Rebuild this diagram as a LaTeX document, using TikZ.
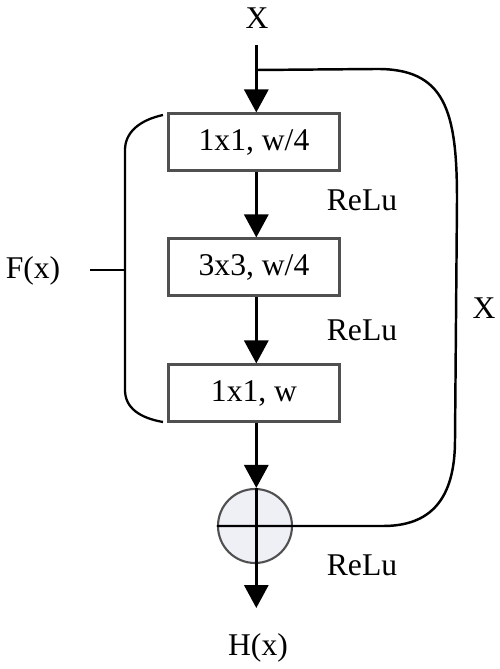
\documentclass[tikz,border=0pt]{standalone}
\usepackage{fontspec}
\setmainfont{Liberation Serif}
\usetikzlibrary{arrows.meta}
\definecolor{boxline}{HTML}{505050}
\definecolor{sumfill}{HTML}{EEF0F6}

\tikzset{
  layer/.style={draw=boxline, line width=1.2pt, fill=white, minimum width=3.42cm, minimum height=1.14cm, inner sep=0pt},
  flow/.style={line width=1.8pt, -{Triangle[length=0.46cm, width=0.48cm]}},
  lbl/.style={font=\fontsize{18}{20}\selectfont, inner sep=0pt}
}

\begin{document}
\begin{tikzpicture}[x=0.02cm, y=-0.02cm, every node/.style={font=\fontsize{18}{20}\selectfont}]
      \useasboundingbox (0,0) rectangle (500,669);

      % input and blocks
      \node[lbl] (xin) at (257,18) {X};
      \coordinate (in) at (256.3,45);
      \coordinate (split) at (256.3,70);
      \node[layer] (b1) at (254,142) {1x1, w/4};
      \node[layer] (b2) at (254,267) {3x3, w/4};
      \node[layer] (b3) at (254,393) {1x1, w};
      \node[circle, draw=boxline, line width=1.2pt, fill=sumfill, minimum size=1.48cm, inner sep=0pt] (sum) at (255,526) {};
      \coordinate (out) at (256.3,608);
      \node[lbl] (hx) at (258,648) {H(x)};

      \draw[flow] (in) -- (in |- b1.north);
      \draw[flow] (b1.south -| in) -- (in |- b2.north);
      \draw[flow] (b2.south -| in) -- (in |- b3.north);
      \draw[flow] (b3.south -| in) -- (in |- sum.north);
      \draw[line width=1.8pt] (in |- sum.north) -- (in |- sum.south);
      \draw[flow] (in |- sum.south) -- (out);

      \node[lbl] (r1) at (362,200) {ReLu};
      \node[lbl] (r2) at (362,330) {ReLu};
      \node[lbl] (r3) at (362,565) {ReLu};

      % shortcut
      \draw[line width=1.4pt] (split) -- (375,69) .. controls (445,68) and (457,110) .. (457,200)
        -- (455,440) .. controls (455,500) and (430,526) .. (383,526) -- (sum.east) -- (sum.west);
      \node[lbl] (xr) at (484,308) {X};

      % F(x) brace
      \draw[line width=1.3pt] (163,115) .. controls (140,120) and (125,132) .. (125,150) -- (125,390)
        .. controls (125,408) and (140,418) .. (163,422);
      \coordinate (fb) at (125,270);
      \node[lbl] (fx) at (33,271) {F(x)};
      \draw[line width=1.4pt] (90,270) -- (fb);
    \end{tikzpicture}
\end{document}
